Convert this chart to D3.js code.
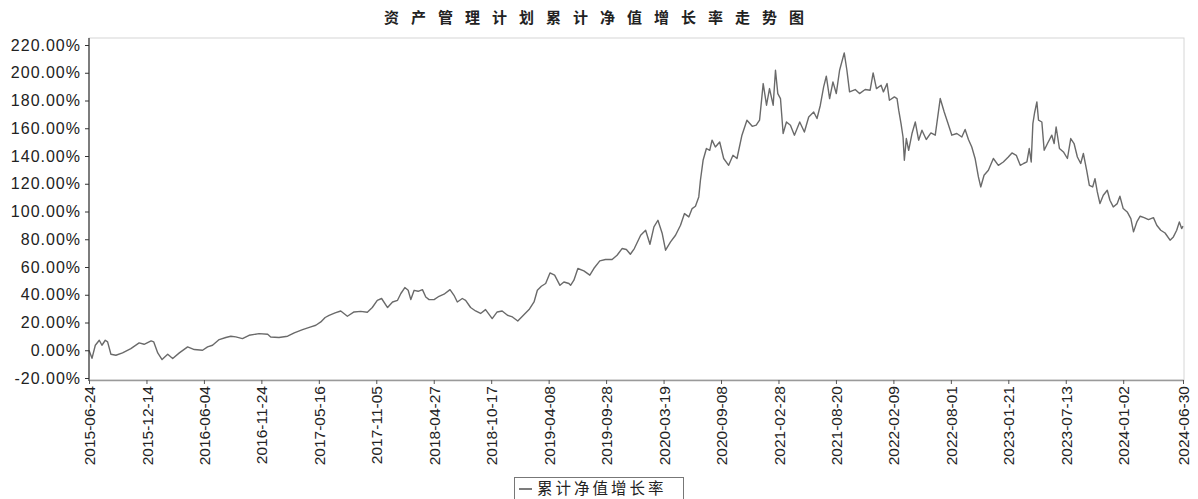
<!DOCTYPE html>
<html><head><meta charset="utf-8">
<script src="https://cdn.jsdelivr.net/npm/d3@7/dist/d3.min.js"></script>
<style>
html,body{margin:0;padding:0;background:#fff;}
svg{display:block;}
</style></head>
<body>
<svg id="chart" width="1198" height="499"></svg>
<script>
const title = "资产管理计划累计净值增长率走势图";
const legendLabel = "累计净值增长率";

const dates = [
"2015-06-24","2015-07-03","2015-07-13","2015-07-25","2015-08-02","2015-08-12","2015-08-19","2015-08-29","2015-09-13","2015-10-03","2015-10-28","2015-11-22","2015-12-07","2015-12-28",
"2016-01-05","2016-01-17","2016-01-30","2016-02-16","2016-03-02","2016-03-22","2016-04-16","2016-05-06","2016-05-31","2016-06-15","2016-06-30","2016-07-20","2016-08-09","2016-08-24","2016-09-08","2016-09-28","2016-10-18","2016-11-17","2016-12-13","2016-12-22",
"2017-01-16","2017-02-11","2017-03-03","2017-03-28","2017-04-22","2017-05-07","2017-05-22","2017-06-04","2017-06-16","2017-07-04","2017-07-21","2017-08-10","2017-08-30","2017-09-19","2017-10-09","2017-10-24","2017-11-08","2017-11-21","2017-12-09","2017-12-24",
"2018-01-08","2018-01-18","2018-01-30","2018-02-09","2018-02-17","2018-02-27","2018-03-11","2018-03-24","2018-04-03","2018-04-13","2018-04-28","2018-05-13","2018-05-28","2018-06-15","2018-06-27","2018-07-07","2018-07-22","2018-08-01","2018-08-16","2018-08-31","2018-09-15","2018-09-30","2018-10-20","2018-11-04","2018-11-19","2018-12-05","2018-12-20",
"2019-01-05","2019-01-22","2019-02-08","2019-02-23","2019-03-05","2019-03-17","2019-03-30","2019-04-12","2019-04-26","2019-05-12","2019-05-24","2019-06-08","2019-06-13","2019-06-23","2019-07-05","2019-07-23","2019-08-10","2019-08-22","2019-09-09","2019-09-26","2019-10-16","2019-10-31","2019-11-15","2019-11-28","2019-12-10","2019-12-22",
"2020-01-10","2020-01-25","2020-02-07","2020-02-19","2020-03-02","2020-03-15","2020-03-25","2020-04-09","2020-04-24","2020-05-09","2020-05-21","2020-06-03","2020-06-13","2020-06-23","2020-07-03","2020-07-08","2020-07-16","2020-07-26","2020-08-05","2020-08-12","2020-08-22","2020-09-04","2020-09-16","2020-10-01","2020-10-14","2020-10-26","2020-11-10","2020-11-25","2020-12-11","2020-12-23",
"2021-01-02","2021-01-13","2021-01-23","2021-02-01","2021-02-12","2021-02-19","2021-02-26","2021-03-06","2021-03-14","2021-03-24","2021-04-05","2021-04-17","2021-05-03","2021-05-17","2021-05-30","2021-06-14","2021-06-24","2021-07-04","2021-07-14","2021-07-22","2021-08-01","2021-08-11","2021-08-21","2021-08-31","2021-09-14","2021-09-22","2021-09-30","2021-10-17","2021-10-30","2021-11-16","2021-12-01","2021-12-10","2021-12-20",
"2022-01-03","2022-01-10","2022-01-21","2022-01-28","2022-02-12","2022-02-20","2022-02-25","2022-03-04","2022-03-10","2022-03-14","2022-03-20","2022-03-27","2022-04-06","2022-04-16","2022-04-26","2022-05-06","2022-05-19","2022-06-02","2022-06-15","2022-06-30","2022-07-12","2022-07-22","2022-08-04","2022-08-19","2022-09-03","2022-09-13","2022-09-23","2022-10-03","2022-10-13","2022-10-23","2022-10-30","2022-11-09","2022-11-22","2022-12-07","2022-12-22",
"2023-01-06","2023-01-21","2023-02-01","2023-02-14","2023-02-26","2023-03-08","2023-03-18","2023-03-25","2023-03-31","2023-04-05","2023-04-10","2023-04-17","2023-04-22","2023-05-02","2023-05-09","2023-05-19","2023-06-01","2023-06-08","2023-06-14","2023-06-24","2023-07-06","2023-07-18","2023-07-28","2023-08-07","2023-08-17","2023-08-27","2023-09-04","2023-09-14","2023-09-22","2023-10-02","2023-10-09","2023-10-16","2023-10-24","2023-11-03","2023-11-15","2023-11-23","2023-12-03","2023-12-15","2023-12-23",
"2024-01-02","2024-01-14","2024-01-25","2024-02-02","2024-02-12","2024-02-22","2024-03-05","2024-03-18","2024-04-02","2024-04-12","2024-04-24","2024-05-07","2024-05-22","2024-06-01","2024-06-11","2024-06-19","2024-06-26","2024-06-30"
];

const values = [
0.0,-5.8,3.6,7.2,3.6,7.2,6.0,-2.9,-3.6,-1.9,1.2,5.3,4.3,6.7,
6.0,-1.9,-6.7,-2.9,-6.0,-1.9,2.4,0.5,0.0,2.4,3.6,7.7,9.2,10.1,9.6,8.4,10.8,12.0,11.5,9.6,
9.2,10.1,12.5,14.9,16.8,18.0,20.4,23.6,25.2,26.9,28.3,24.5,27.6,28.0,27.4,30.8,36.0,37.3,30.8,34.8,
36.0,40.9,45.2,43.2,36.5,43.2,42.5,43.7,38.4,36.5,36.5,38.9,40.4,43.7,39.6,34.8,37.3,36.0,30.8,28.3,26.5,29.3,22.8,27.6,28.3,25.2,24.0,
21.1,25.2,29.3,34.8,43.2,46.1,48.1,55.7,54.1,46.8,49.2,48.1,46.8,50.5,58.9,57.2,54.1,58.9,64.4,65.4,65.4,68.5,73.3,72.6,69.2,73.3,
82.9,86.5,76.4,88.9,93.7,84.1,72.1,78.1,82.9,90.1,98.5,96.1,102.1,103.8,110.5,122.5,136.9,145.4,144.1,151.4,146.5,150.1,138.2,133.3,140.5,138.2,155.0,165.8,161.4,162.2,
165.8,192.2,176.6,188.6,176.6,201.8,185.0,181.4,156.2,164.5,162.2,155.0,164.5,157.3,168.1,171.7,167.0,176.6,189.8,197.5,181.4,193.4,185.0,201.8,214.3,201.8,186.2,187.9,185.0,187.9,187.4,199.9,188.6,
191.0,186.2,192.2,180.2,182.6,181.4,173.0,163.4,153.7,136.9,152.6,144.1,156.2,164.5,151.4,158.6,151.9,156.6,155.0,181.4,171.7,164.5,155.0,156.2,153.7,159.1,151.9,146.5,138.2,124.9,117.7,126.1,129.7,138.2,133.3,
135.7,139.3,142.2,140.5,133.3,134.6,135.7,145.4,135.7,163.4,171.0,179.0,165.8,164.5,144.1,149.0,155.0,149.0,160.9,145.4,142.9,138.2,152.6,149.0,139.3,134.6,141.8,129.7,118.9,117.7,123.7,114.1,105.7,111.7,115.3,108.1,103.3,105.7,111.0,
102.1,99.7,94.9,85.3,92.5,96.6,95.6,94.2,95.6,90.1,86.5,84.5,79.3,81.7,86.5,92.5,87.7,89.4
];

const xTickLabels = ["2015-06-24","2015-12-14","2016-06-04","2016-11-24","2017-05-16","2017-11-05","2018-04-27","2018-10-17","2019-04-08","2019-09-28","2020-03-19","2020-09-08","2021-02-28","2021-08-20","2022-02-09","2022-08-01","2023-01-21","2023-07-13","2024-01-02","2024-06-30"];
const yTickValues = [-20,0,20,40,60,80,100,120,140,160,180,200,220];

const parse = d3.utcParse("%Y-%m-%d");
const fmt = d3.utcFormat("%Y-%m-%d");
const data = dates.map((d,i)=>({date:parse(d), value:values[i]}));
const tickDates = xTickLabels.map(parse);

const svg = d3.select("#chart");
const L = 89, R = 1183, T = 38, B = 380;

const x = d3.scaleUtc().domain([parse("2015-06-24"), parse("2024-06-30")]).range([L, R]);
const y = d3.scaleLinear().domain([-20, 220]).range([378, 45]);

// frame
svg.append("rect").attr("x",L).attr("y",T).attr("width",R-L+1).attr("height",B-T)
  .attr("fill","none").attr("stroke","#d6d6d6").attr("stroke-width",1);

// line
const line = d3.line().x(d=>x(d.date)).y(d=>y(d.value));
svg.append("path").datum(data).attr("d",line)
  .attr("fill","none").attr("stroke","#6a6a6a").attr("stroke-width",1.4).attr("stroke-linejoin","round");

// y axis
const gy = svg.append("g").attr("transform",`translate(${L},0)`)
  .call(d3.axisLeft(y).tickValues(yTickValues).tickSize(4).tickSizeOuter(0).tickFormat(d=>d.toFixed(2)+"%"));
gy.select(".domain").remove();
gy.append("line").attr("x1",0).attr("x2",0).attr("y1",T).attr("y2",B+1).attr("stroke","#333").attr("stroke-width",1.2);
gy.selectAll(".tick line").attr("stroke","#333");
gy.selectAll(".tick text").attr("x",-8).attr("fill","#222")
  .style("font-family","'Liberation Sans', Arial, sans-serif").style("font-size","16px").style("letter-spacing","1px");

// x axis
const gx = svg.append("g").attr("transform",`translate(0,${B})`)
  .call(d3.axisBottom(x).tickValues(tickDates).tickSize(4).tickSizeOuter(0).tickFormat(fmt));
gx.select(".domain").attr("stroke","#9a9a9a").attr("stroke-width",1.5);
gx.selectAll(".tick line").attr("stroke","#555");
gx.selectAll(".tick text")
  .attr("transform","rotate(-90)")
  .attr("x",-6).attr("y",0).attr("dy","0.36em")
  .style("text-anchor","end").attr("fill","#222")
  .style("font-family","'Liberation Sans', Arial, sans-serif").style("font-size","15.5px");

// title
svg.append("text").attr("x",600).attr("y",23).attr("text-anchor","middle")
  .style("font-family","'Noto Sans CJK SC', sans-serif").style("font-weight","bold")
  .style("font-size","15px").style("letter-spacing","12px").attr("fill","#222").text(title);

// legend
const lg = svg.append("g");
lg.append("rect").attr("x",514.5).attr("y",477.5).attr("width",169).attr("height",24)
  .attr("fill","#fff").attr("stroke","#777").attr("stroke-width",1);
lg.append("line").attr("x1",519).attr("x2",532).attr("y1",489).attr("y2",489).attr("stroke","#444").attr("stroke-width",1.4);
lg.append("text").attr("x",537).attr("y",494)
  .style("font-family","'Noto Sans CJK SC', sans-serif").style("font-size","15.5px").style("letter-spacing","3px")
  .attr("fill","#222").text(legendLabel);
</script>
</body></html>
